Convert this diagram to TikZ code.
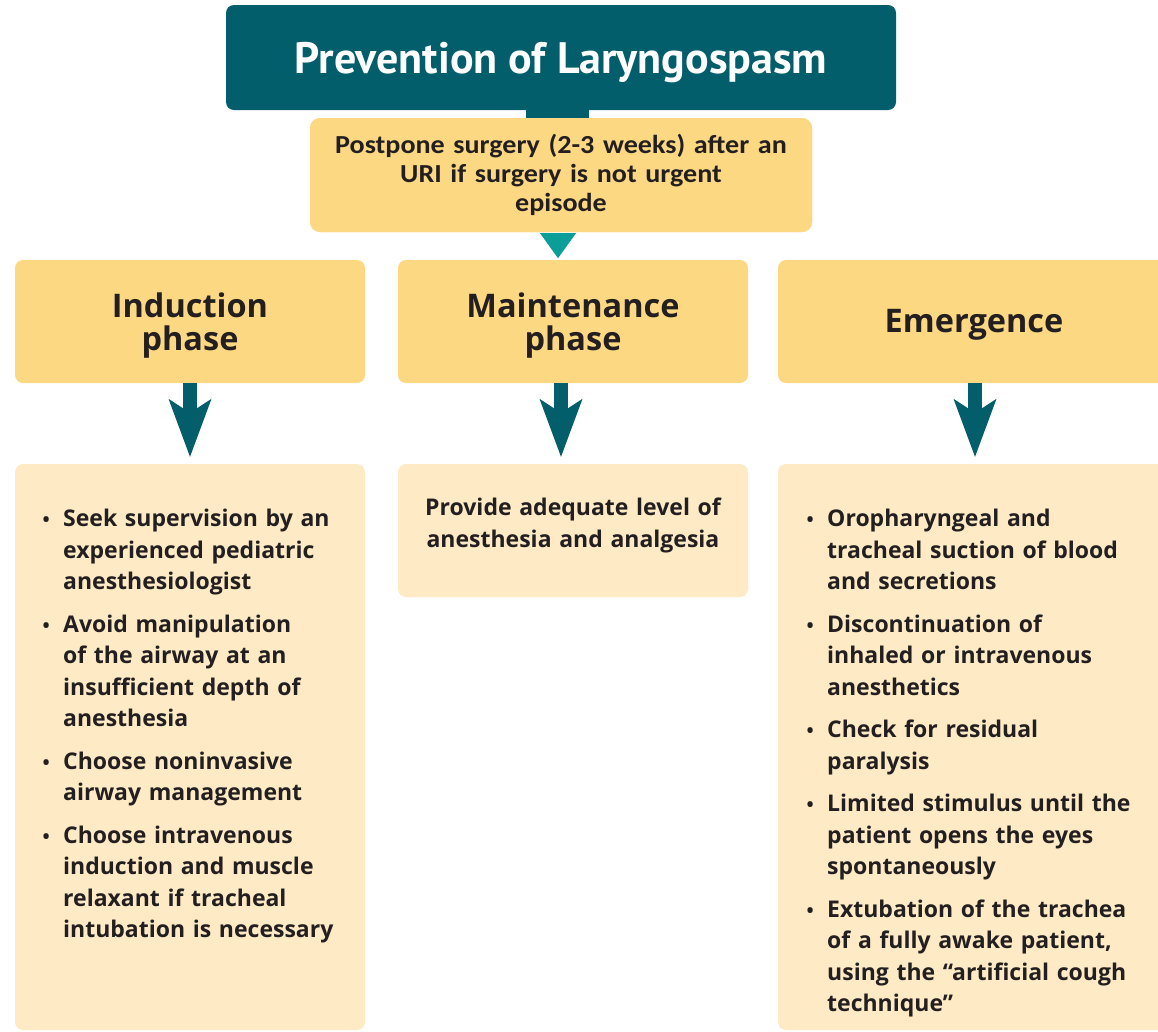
\documentclass[tikz,border=0pt]{standalone}
\usepackage{fontspec}
\setmainfont{PT Sans}
\newfontfamily\calibri{Carlito}[FakeStretch=1.08]
\newfontfamily\bodyf{Open Sans}
\usetikzlibrary{arrows.meta,calc}
\definecolor{tealdark}{HTML}{035E6B}
\definecolor{tealtri}{HTML}{0B9D98}
\definecolor{phasec}{HTML}{FDD883}
\definecolor{contc}{HTML}{FEEBC6}
\definecolor{textc}{HTML}{231F20}
\newcommand\myitem{\par\noindent\hangindent=24pt\hangafter=1\makebox[24pt][l]{\makebox[14pt]{\fontsize{19}{20}\selectfont•}}\rule{0pt}{20pt}}
\newcommand\itemgap{\par\vspace{11pt}}
\begin{document}
\begin{tikzpicture}[x=1pt,y=-1pt,
  titlebox/.style={fill=tealdark, rounded corners=8pt, inner sep=0pt},
  postbox/.style={fill=phasec, rounded corners=10pt, inner sep=0pt},
  phasebox/.style={fill=phasec, rounded corners=8pt, inner sep=0pt, minimum width=350pt, minimum height=123pt},
  contbox/.style={fill=contc, rounded corners=8pt, inner sep=0pt},
  phasetext/.style={font=\bodyf\fontsize{32.5}{33}\selectfont\bfseries, text=textc, inner sep=0pt},
  listtext/.style={font=\bodyf\fontsize{23}{31.5}\selectfont\bfseries, text=textc, inner sep=0pt, text width=400pt, anchor=north west},
  bigarrow/.style={draw=tealdark, line width=14pt, -{Stealth[length=58pt,width=43pt,inset=14pt,line width=0pt]}}
]
\useasboundingbox (0,0) rectangle (1158,1031);
\clip (0,0) rectangle (1158,1031);

% boxes
\node[titlebox, minimum width=670pt, minimum height=105pt] (title) at (561,57.5) {};
\node[postbox, minimum width=502pt, minimum height=114pt] (post) at (561,175) {};
\draw[tealdark, line width=63pt] ([xshift=-3.5pt]title.south) -- ([xshift=-3.5pt]post.north);
\node[postbox, minimum width=502pt, minimum height=114pt] (post2) at (561,175) {};
\fill[tealtri] ($(post.south)+(-21,1)$) coordinate (t1) -- ($(post.south)+(15,1)$) coordinate (t2) -- ($(post.south)+(-3,26)$) coordinate (t3) -- cycle;

\node[phasebox] (ind) at (190,321.5) {};
\node[phasebox] (mnt) at (573,321.5) {};
\node[phasebox, minimum width=392pt] (emg) at (974,321.5) {};

\node[contbox, minimum width=350pt, minimum height=566pt] (indc) at (190,747) {};
\node[contbox, minimum width=350pt, minimum height=133pt] (mntc) at (573,530.5) {};
\node[contbox, minimum width=392pt, minimum height=566pt] (emgc) at (974,747) {};

% arrows
\draw[bigarrow] (ind.south) -- ([yshift=7pt]indc.north);
\draw[bigarrow] ([xshift=-12pt]mnt.south) -- ([xshift=-12pt,yshift=7pt]mntc.north);
\draw[bigarrow] ([xshift=1pt]emg.south) -- ([xshift=1pt,yshift=7pt]emgc.north);

% texts
\node[anchor=base, inner sep=0pt, text=white, font=\fontsize{44}{48}\selectfont\bfseries] (titlet) at (561,73) {Prevention of Laryngospasm};
\node[anchor=north, inner sep=0pt, text=textc, text width=500pt, align=center, font=\calibri\fontsize{26}{29}\selectfont\bfseries] (postt) at (561,131) {\rule{0pt}{22pt}Postpone surgery (2-3 weeks) after an\\URI if surgery is not urgent\\episode};

\node[phasetext, anchor=north, text width=340pt, align=center] (indt) at (190,290) {\rule{0pt}{27pt}Induction\\phase};
\node[phasetext, anchor=north, text width=340pt, align=center] (mntt) at (573,290) {\rule{0pt}{27pt}Maintenance\\phase};
\node[phasetext, anchor=base] (emgt) at (974,332) {Emergence};

\node[anchor=north, inner sep=0pt, text=textc, text width=340pt, align=center, font=\bodyf\fontsize{23}{32}\selectfont\bfseries] (mntl) at (573,495) {\rule{0pt}{20pt}Provide adequate level of\\anesthesia and analgesia};

\node[listtext] (indl) at (39,495) {%
\myitem Seek supervision by an\newline experienced pediatric\newline anesthesiologist\itemgap
\myitem Avoid manipulation\newline of the airway at an\newline insufficient depth of\newline anesthesia\itemgap
\myitem Choose noninvasive\newline airway management\itemgap
\myitem Choose intravenous\newline induction and muscle\newline relaxant if tracheal\newline intubation is necessary\par};

\node[listtext] (emgl) at (803,495) {%
\myitem Oropharyngeal and\newline tracheal suction of blood\newline and secretions\itemgap
\myitem Discontinuation of\newline inhaled or intravenous\newline anesthetics\itemgap
\myitem Check for residual\newline paralysis\itemgap
\myitem Limited stimulus until the\newline patient opens the eyes\newline spontaneously\itemgap
\myitem Extubation of the trachea\newline of a fully awake patient,\newline using the “artificial cough\newline technique”\par};
\end{tikzpicture}
\end{document}
